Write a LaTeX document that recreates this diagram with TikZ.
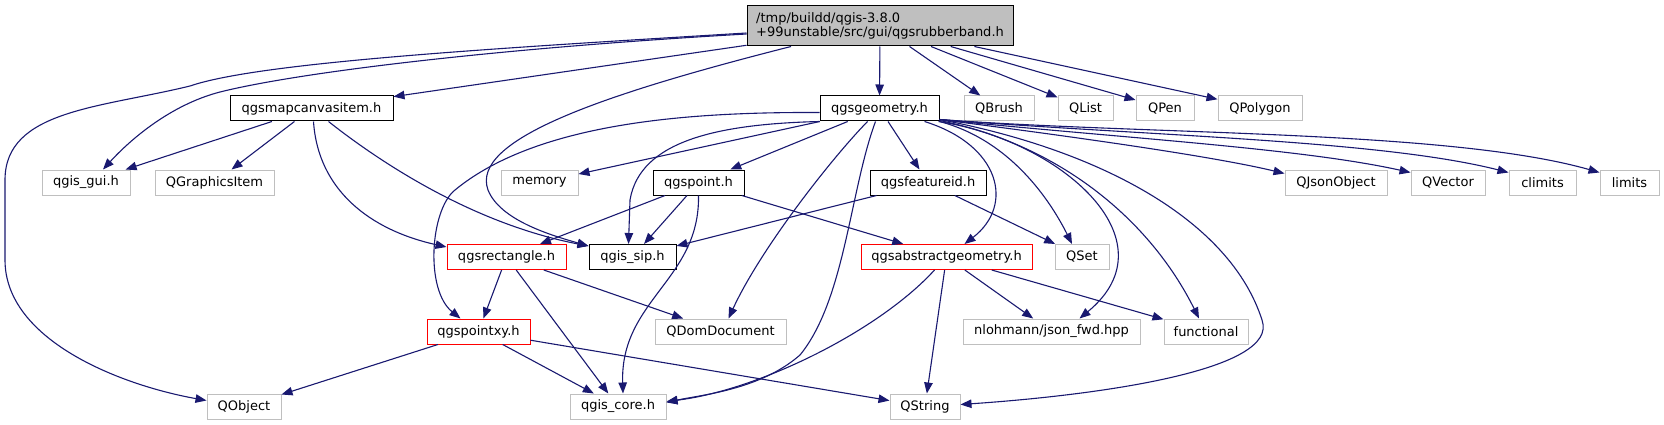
\documentclass[tikz,border=0pt]{standalone}
\usepackage{fontspec}
\setmainfont{DejaVu Sans}
\usetikzlibrary{arrows.meta}
\definecolor{edgeblue}{HTML}{191970}
\definecolor{greyline}{HTML}{BFBFBF}
\begin{document}
\begin{tikzpicture}[x=1pt,y=-1pt,
  box/.style={rectangle, draw, line width=1pt, inner sep=0pt, minimum height=25pt,
    font=\fontsize{13pt}{14.5pt}\selectfont, text=black},
  doc/.style={box, draw=black},
  ext/.style={box, draw=greyline},
  trunc/.style={box, draw=red},
  e/.style={draw=edgeblue, line width=1.1pt, -{Triangle[length=11pt,width=8.5pt]}},
]
\path[use as bounding box] (0,0) rectangle (1664,425);

% row 0
\node[box, fill=greyline, draw=black, minimum width=266pt, minimum height=40pt, align=left] (M) at (880,26)
  {/tmp/buildd/qgis-3.8.0\\+99unstable/src/gui/qgsrubberband.h};
% row 1
\node[doc, minimum width=163pt] (MC) at (311.5,108.5) {qgsmapcanvasitem.h};
\node[doc, minimum width=119pt] (G) at (879.5,108.5) {qgsgeometry.h};
\node[ext, minimum width=70pt] (QBrush) at (999,108.5) {QBrush};
\node[ext, minimum width=55pt] (QList) at (1085.5,108.5) {QList};
\node[ext, minimum width=58pt] (QPen) at (1165,108.5) {QPen};
\node[ext, minimum width=84pt] (QPolygon) at (1260,108.5) {QPolygon};
% row 2
\node[ext, minimum width=88pt] (gui) at (86,182.5) {qgis\_gui.h};
\node[ext, minimum width=119pt] (QGI) at (214.5,182.5) {QGraphicsItem};
\node[ext, minimum width=77pt] (memory) at (539.5,182.5) {memory};
\node[doc, minimum width=91pt] (P) at (698.5,182.5) {qgspoint.h};
\node[doc, minimum width=116pt] (F) at (928,182.5) {qgsfeatureid.h};
\node[ext, minimum width=102pt] (QJson) at (1336,182.5) {QJsonObject};
\node[ext, minimum width=74pt] (QVector) at (1448,182.5) {QVector};
\node[ext, minimum width=67pt] (climits) at (1542.5,182.5) {climits};
\node[ext, minimum width=59pt] (limits) at (1629.5,182.5) {limits};
% row 3
\node[trunc, minimum width=119pt] (R) at (506.5,257) {qgsrectangle.h};
\node[doc, minimum width=87pt] (sip) at (632.5,257) {qgis\_sip.h};
\node[trunc, minimum width=171pt] (AG) at (946.5,257) {qgsabstractgeometry.h};
\node[ext, minimum width=54pt] (QSet) at (1082,257) {QSet};
% row 4
\node[trunc, minimum width=103pt] (PX) at (478.5,331.5) {qgspointxy.h};
\node[ext, minimum width=131pt] (QDom) at (720.5,331.5) {QDomDocument};
\node[ext, minimum width=177pt] (json) at (1051.5,331.5) {nlohmann/json\_fwd.hpp};
\node[ext, minimum width=84pt] (functional) at (1206,331.5) {functional};
% row 5
\node[ext, minimum width=74pt] (QObject) at (244,406.5) {QObject};
\node[ext, minimum width=96pt] (core) at (618,406.5) {qgis\_core.h};
\node[ext, minimum width=70pt] (QString) at (925,406.5) {QString};

% edges from main
\draw[e] ([yshift=-7pt]M.west) .. controls (500,48) and (260,62) .. (190,86)
  .. controls (100,108) and (5,110) .. (5,180) -- (5,260)
  .. controls (5,340) and (120,385) .. ([yshift=6pt]QObject.west);
\draw[e] ([yshift=-8pt]M.west) .. controls (500,48) and (300,72) .. (220,92)
  .. controls (170,105) and (130,140) .. ([xshift=17pt]gui.north);
\draw[e] (M) -- (MC);
\draw[e] ([xshift=-89pt]M.south) .. controls (600,95) and (470,140) .. (488,190)
  .. controls (500,220) and (550,235) .. ([yshift=11pt]sip.west);
\draw[e] (M) -- (G);
\draw[e] (M) -- (QBrush);
\draw[e] (M) -- (QList);
\draw[e] (M) -- (QPen);
\draw[e] (M) -- (QPolygon);

% edges from qgsmapcanvasitem
\draw[e] (MC) -- (gui);
\draw[e] (MC) -- (QGI);
\draw[e] ([xshift=2pt]MC.south) .. controls (318,190) and (370,230) .. ([yshift=10pt]R.west);
\draw[e] ([xshift=17pt]MC.south) .. controls (390,170) and (480,225) .. ([yshift=11pt]sip.west);

% edges from qgsgeometry
\draw[e] ([yshift=-4pt]G.west) .. controls (700,112) and (540,120) .. (455,190)
  .. controls (430,210) and (425,290) .. ([xshift=-18pt]PX.north);
\draw[e] (G) -- (memory);
\draw[e] (G.south west) .. controls (720,124) and (640,140) .. (630,200) -- ([xshift=-4pt]sip.north);
\draw[e] (G) -- (P);
\draw[e] ([xshift=-12pt]G.south) .. controls (830,160) and (760,250) .. ([xshift=8pt]QDom.north);
\draw[e] ([xshift=-4pt]G.south) .. controls (850,190) and (845,300) .. (800,355)
  .. controls (760,390) and (700,395) .. ([yshift=4pt]core.east);
\draw[e] (G) -- (F);
\draw[e] ([xshift=45pt]G.south) .. controls (1000,145) and (1015,205) .. ([xshift=18pt]AG.north);
\draw[e] (G.south east) .. controls (1010,140) and (1050,200) .. ([xshift=-10pt]QSet.north);
\draw[e] ([xshift=-1pt]G.south east) .. controls (1060,140) and (1175,240) .. ([xshift=28pt]json.north);
\draw[e] ([yshift=1pt]G.south east) .. controls (1060,145) and (1150,220) .. ([xshift=-7pt]functional.north);
\draw[e] ([yshift=2pt]G.south east) .. controls (1100,150) and (1230,220) .. (1262,320)
  .. controls (1280,370) and (1100,395) .. ([yshift=2pt]QString.east);
\draw[e] ([yshift=2pt]G.south east) .. controls (1100,140) and (1220,158) .. ([yshift=9pt]QJson.west);
\draw[e] ([yshift=2pt]G.south east) .. controls (1120,138) and (1300,148) .. ([yshift=10pt]QVector.west);
\draw[e] ([yshift=2pt]G.south east) .. controls (1150,136) and (1380,140) .. ([yshift=10pt]climits.west);
\draw[e] ([yshift=2pt]G.south east) .. controls (1150,135) and (1450,130) .. ([yshift=10pt]limits.west);

% edges from qgspoint
\draw[e] (P) -- (R);
\draw[e] (P) -- (sip);
\draw[e] (P.south) .. controls (700,280) and (620,300) .. ([xshift=5pt]core.north);
\draw[e] (P) -- (AG);

% edges from qgsfeatureid
\draw[e] (F) -- (sip);
\draw[e] (F) -- (QSet);

% edges from qgsrectangle
\draw[e] (R) -- (PX);
\draw[e] (R) -- (core);
\draw[e] (R) -- (QDom);

% edges from qgspointxy
\draw[e] (PX) -- (QObject);
\draw[e] (PX) -- (core);
\draw[e] (PX) -- (QString);

% edges from qgsabstractgeometry
\draw[e] ([xshift=-12pt]AG.south) .. controls (880,330) and (760,390) .. ([yshift=5pt]core.east);
\draw[e] (AG) -- (QString);
\draw[e] (AG) -- (json);
\draw[e] (AG) -- (functional);
\end{tikzpicture}
\end{document}
